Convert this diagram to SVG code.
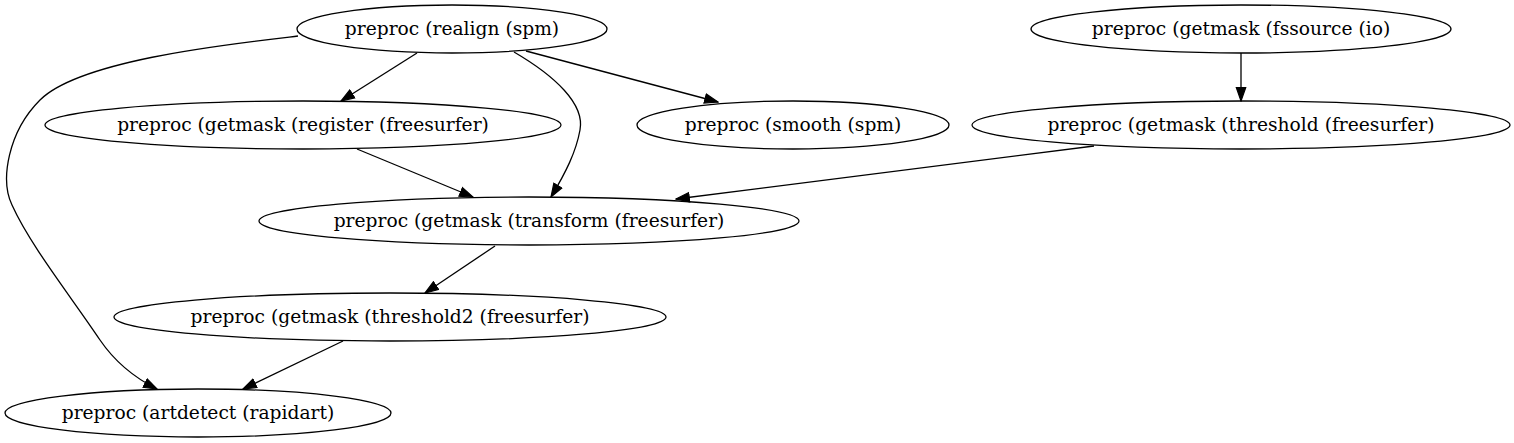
<svg xmlns="http://www.w3.org/2000/svg" width="1514" height="443" viewBox="0 0 1514 443">
<style>
.node ellipse{fill:none;stroke:#000;stroke-width:1.3}
.node text{font-family:"DejaVu Serif",serif;font-size:18.67px;text-anchor:middle;fill:#000}
.edges path{fill:none;stroke:#000;stroke-width:1.3;marker-end:url(#arr)}
</style>
<defs>
<marker id="arr" markerUnits="userSpaceOnUse" viewBox="0 0 15 12" markerWidth="15" markerHeight="12" refX="14" refY="6" orient="auto">
<path d="M0.7,1.33 L14,6 L0.7,10.67 z" fill="#000" stroke="#000" stroke-width="1.2"/>
</marker>
</defs>
<rect width="1514" height="443" fill="#fff"/>
<g id="edges" class="edges">
<path d="M417,53 L341,101"/>
<path d="M526,51 L718,102"/>
<path d="M514,52 C555,76 585,104 580,130 C576,152 566,172 551,197"/>
<path d="M298,36 C230,44 80,60 40,100 C8,132 0,180 12,205 C30,245 72,298 100,340 C115,362 135,378 157,389"/>
<path d="M357,149 L473,197"/>
<path d="M1094,146 L676,199"/>
<path d="M1241,53 L1241,101"/>
<path d="M495,246 L425,293"/>
<path d="M343,341 L243,389"/>
</g>
<g id="realign" class="node"><ellipse cx="452" cy="29" rx="155" ry="24"/><text x="452" y="35">preproc (realign (spm)</text></g>
<g id="fssource" class="node"><ellipse cx="1241" cy="29" rx="210" ry="24"/><text x="1241" y="35">preproc (getmask (fssource (io)</text></g>
<g id="register" class="node"><ellipse cx="303" cy="125" rx="258" ry="24"/><text x="303" y="131">preproc (getmask (register (freesurfer)</text></g>
<g id="smooth" class="node"><ellipse cx="793" cy="125" rx="156" ry="24"/><text x="793" y="131">preproc (smooth (spm)</text></g>
<g id="threshold" class="node"><ellipse cx="1241" cy="125" rx="269" ry="24"/><text x="1241" y="131">preproc (getmask (threshold (freesurfer)</text></g>
<g id="transform" class="node"><ellipse cx="529" cy="221" rx="270" ry="24"/><text x="529" y="227">preproc (getmask (transform (freesurfer)</text></g>
<g id="threshold2" class="node"><ellipse cx="390" cy="317" rx="276" ry="24"/><text x="390" y="323">preproc (getmask (threshold2 (freesurfer)</text></g>
<g id="artdetect" class="node"><ellipse cx="198" cy="413" rx="193" ry="24"/><text x="198" y="419">preproc (artdetect (rapidart)</text></g>
</svg>
